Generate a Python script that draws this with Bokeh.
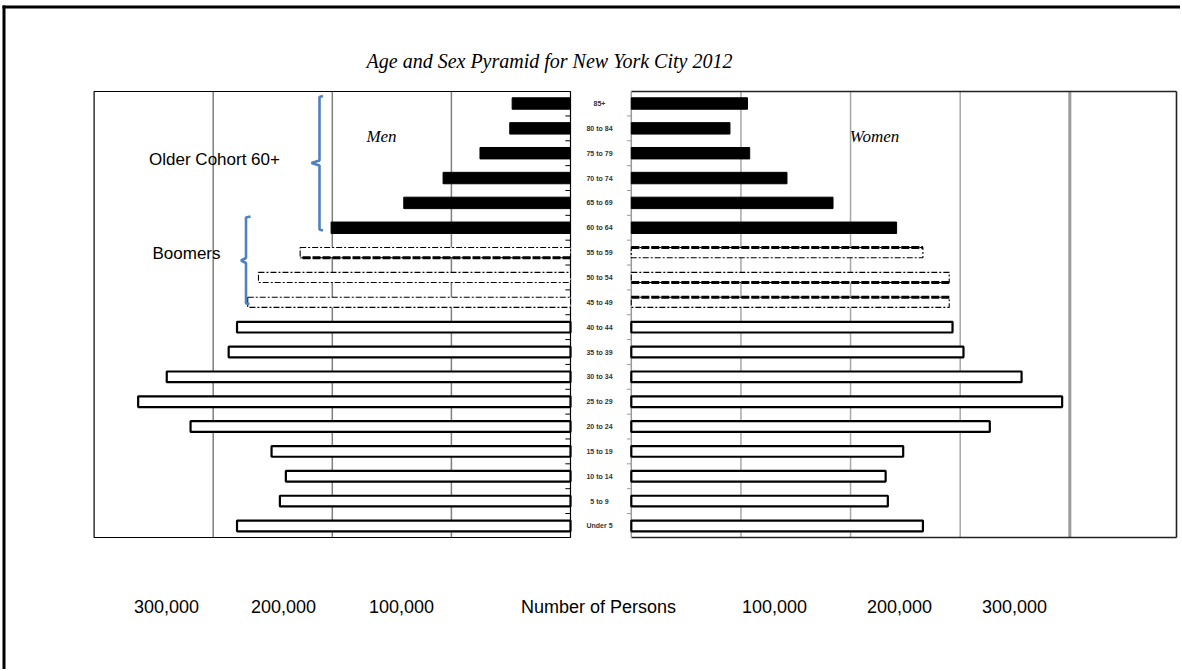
from bokeh.plotting import figure
from bokeh.models import Range1d, Label
from bokeh.core.properties import value
from bokeh.embed import file_html
from bokeh.resources import INLINE

# ---------------- data ----------------
age_groups = ["85+", "80 to 84", "75 to 79", "70 to 74", "65 to 69", "60 to 64",
              "55 to 59", "50 to 54", "45 to 49", "40 to 44", "35 to 39", "30 to 34",
              "25 to 29", "20 to 24", "15 to 19", "10 to 14", "5 to 9", "Under 5"]
men = [49000, 51000, 76000, 107000, 140000, 201000,
       227000, 262000, 271000, 280000, 287000, 339000,
       363000, 319000, 251000, 239000, 244000, 280000]
women = [106000, 90000, 108000, 142000, 184000, 242000,
         266000, 290000, 290000, 293000, 303000, 356000,
         393000, 327000, 248000, 232000, 234000, 266000]
cohort = ["older"] * 6 + ["boomer"] * 3 + ["young"] * 9
grid_values = [100000, 200000, 300000]
women_heavy_grid = [400000]
bottom_labels = ["300,000", "200,000", "100,000", "Number of Persons",
                 "100,000", "200,000", "300,000"]
title_text = "Age and Sex Pyramid for New York City 2012"

# ---------------- geometry ----------------
W, H = 1180, 669
OX, OY = 0, 0


def fx(px):
    return px - OX


def fy(py):
    return py - OY


MEN_ZERO, MEN_SCALE = fx(570), 1.191 / 1000.0
WOM_ZERO, WOM_SCALE = fx(630.8), 1.0963 / 1000.0
C0, SP = fy(103), 24.85
FR_TOP, FR_BOT = fy(91), fy(537)

p = figure(width=W, height=H, x_range=Range1d(0, W), y_range=Range1d(H, 0),
           output_backend="svg", toolbar_location=None,
           x_axis_location=None, y_axis_location=None, min_border=0)
p.grid.grid_line_color = None
p.outline_line_color = None
p.background_fill_color = "white"

p.extra_x_ranges = {
    "men": Range1d(start=MEN_ZERO / MEN_SCALE, end=(MEN_ZERO - W) / MEN_SCALE),
    "women": Range1d(start=-WOM_ZERO / WOM_SCALE, end=(W - WOM_ZERO) / WOM_SCALE),
}
p.extra_y_ranges = {"cat": Range1d(start=(H - C0) / SP, end=-C0 / SP)}

idx = list(range(len(age_groups)))

# outer border (top and left visible)
p.segment(x0=[fx(2), fx(3.5)], y0=[fy(6.5), fy(5)], x1=[W, fx(3.5)], y1=[fy(6.5), H],
          line_color="black", line_width=3)

# gridlines
p.segment(x0=grid_values, x1=grid_values, y0=FR_TOP, y1=FR_BOT,
          x_range_name="men", line_color="#7f7f7f", line_width=1.5)
p.segment(x0=grid_values, x1=grid_values, y0=FR_TOP, y1=FR_BOT,
          x_range_name="women", line_color="#a8a8a8", line_width=1.5)
p.segment(x0=women_heavy_grid, x1=women_heavy_grid, y0=FR_TOP, y1=FR_BOT,
          x_range_name="women", line_color="#9a9a9a", line_width=3)

# panel frames
p.quad(left=400000, right=0, top=FR_TOP, bottom=FR_BOT, x_range_name="men",
       fill_color=None, line_color="black", line_width=1.2)
wl, wr = WOM_ZERO, fx(1176)
p.segment(x0=[wl, wl, wr], x1=[wr, wr, wr],
          y0=[FR_TOP, FR_BOT, FR_TOP], y1=[FR_TOP, FR_BOT, FR_BOT],
          line_color="#222222", line_width=1.6)
p.segment(x0=[0], x1=[0], y0=[FR_TOP], y1=[FR_BOT], x_range_name="women",
          line_color="#9a9a9a", line_width=1.5)

# tick marks at category boundaries
bounds = [i + 0.5 for i in idx[:-1]]
p.segment(x0=[0] * len(bounds), x1=[4300] * len(bounds), y0=bounds, y1=bounds,
          x_range_name="men", y_range_name="cat", line_color="black", line_width=1)
p.segment(x0=[-4000] * len(bounds), x1=[0] * len(bounds), y0=bounds, y1=bounds,
          x_range_name="women", y_range_name="cat", line_color="#9a9a9a", line_width=1)


def subset(vals, group):
    ys = [i for i in idx if cohort[i] == group]
    return ys, [vals[i] for i in ys]


BAR_H = 0.46
for name, vals in (("men", men), ("women", women)):
    # older cohort: solid black
    ys, vs = subset(vals, "older")
    p.hbar(y=ys, left=0, right=vs, height=BAR_H, x_range_name=name, y_range_name="cat",
           fill_color="black", line_color="black", line_width=1)
    # young: white with black outline
    ys, vs = subset(vals, "young")
    p.hbar(y=ys, left=0, right=vs, height=0.43, x_range_name=name, y_range_name="cat",
           fill_color="white", line_color="black", line_width=2.2)
    # boomers: dashed outline
    ys, vs = subset(vals, "boomer")
    p.hbar(y=ys, left=0, right=vs, height=0.41, x_range_name=name, y_range_name="cat",
           fill_color="white", line_color="black", line_width=1.1, line_dash="6 2 2 2")

# thick dashed edges on boomer bars (edge: -1 top, +1 bottom, 0 none)
men_edges = [1, 0, 0]
women_edges = [-1, 1, -1]
for name, vals, edges in (("men", men, men_edges), ("women", women, women_edges)):
    ys, vs = subset(vals, "boomer")
    ey, ex = [], []
    for y, v, e in zip(ys, vs, edges):
        if e != 0:
            ey.append(y + e * 0.205)
            ex.append(v)
    p.segment(x0=[0] * len(ey), x1=ex, y0=ey, y1=ey, x_range_name=name,
              y_range_name="cat", line_color="black", line_width=3, line_dash="8 2")

# category labels
p.text(x=[fx(599)] * len(idx), y=idx, text=age_groups, y_range_name="cat",
       text_align="center", text_baseline="middle", text_font=value("Liberation Sans"),
       text_font_style="bold", text_font_size="7px", text_color="#333333")

# brackets
blue = "#4F81BD"
p.line(x=[fx(322.5), fx(319), fx(319), fx(311), fx(319), fx(319), fx(322.5)],
       y=[fy(95.5), fy(96.5), fy(160), fy(162.5), fy(165), fy(229), fy(230)],
       line_color=blue, line_width=2.6)
p.line(x=[fx(250), fx(245.5), fx(245.5), fx(240.5), fx(245.5), fx(245.5), fx(249)],
       y=[fy(216), fy(217), fy(257.5), fy(260), fy(262.5), fy(303), fy(303.5)],
       line_color=blue, line_width=2.6)

# texts
p.add_layout(Label(x=fx(549), y=fy(60), text=title_text, text_align="center",
                   text_baseline="middle", text_font="Liberation Serif",
                   text_font_style="italic", text_font_size="20px", text_color="black"))
p.add_layout(Label(x=fx(381), y=fy(136), text="Men", text_align="center",
                   text_baseline="middle", text_font="Liberation Serif",
                   text_font_style="italic", text_font_size="17px", text_color="black"))
p.add_layout(Label(x=fx(874), y=fy(136), text="Women", text_align="center",
                   text_baseline="middle", text_font="Liberation Serif",
                   text_font_style="italic", text_font_size="17px", text_color="black"))
p.add_layout(Label(x=fx(214), y=fy(159), text="Older Cohort 60+", text_align="center",
                   text_baseline="middle", text_font="Liberation Sans",
                   text_font_size="17px", text_color="black"))
p.add_layout(Label(x=fx(186), y=fy(253), text="Boomers", text_align="center",
                   text_baseline="middle", text_font="Liberation Sans",
                   text_font_size="17px", text_color="black"))

bottom_x = [166, 283, 401, 598, 774, 899, 1014]
for bx, bt in zip(bottom_x, bottom_labels):
    p.add_layout(Label(x=fx(bx), y=fy(606), text=bt, text_align="center",
                       text_baseline="middle", text_font="Liberation Sans",
                       text_font_size="18px", text_color="black"))

open("out.html", "w").write(file_html(p, INLINE))
